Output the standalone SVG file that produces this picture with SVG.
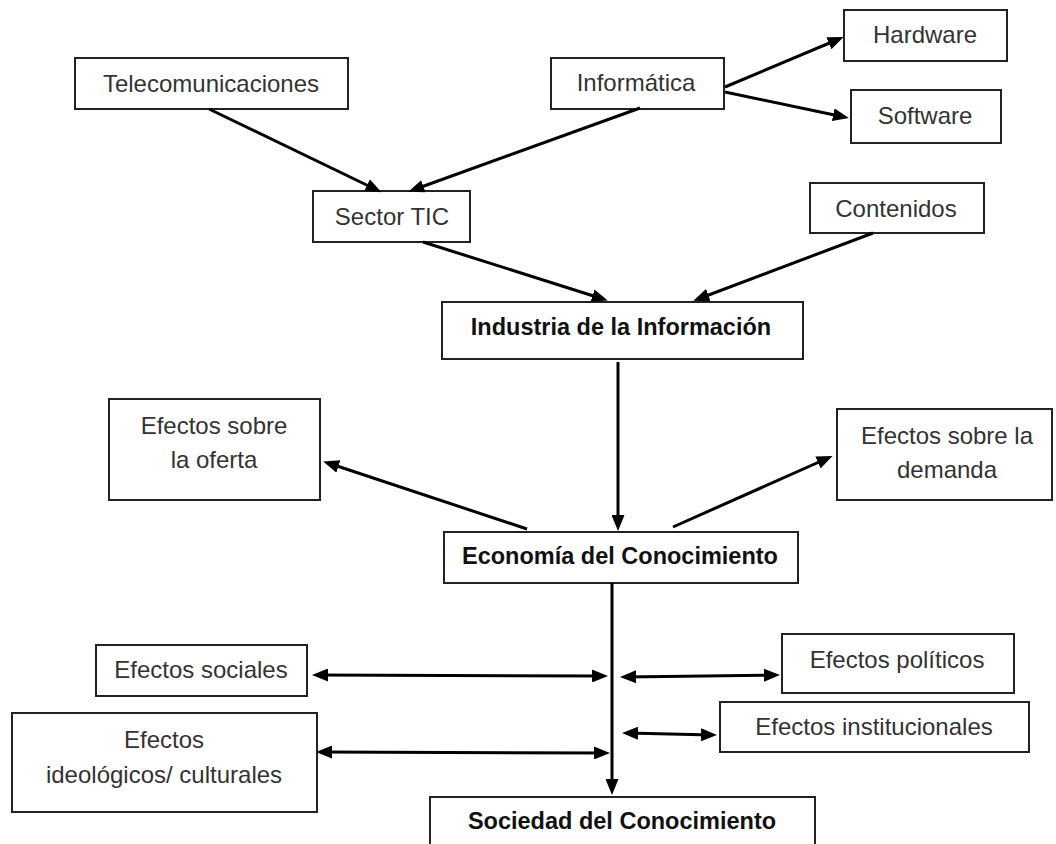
<svg xmlns="http://www.w3.org/2000/svg" width="1056" height="844" viewBox="0 0 1056 844">
<style>
.box{fill:#fff;stroke:#222;stroke-width:2}
.t{font-family:"Liberation Sans",Arial,sans-serif;font-size:24px;fill:#333;text-anchor:middle}
.b{font-family:"Liberation Sans",Arial,sans-serif;font-size:23.5px;font-weight:bold;fill:#111;text-anchor:middle}
.c line{stroke:#000;stroke-width:3;marker-end:url(#ah)}
.c line.d{marker-start:url(#ah)}
</style>
<defs>
<marker id="ah" markerUnits="userSpaceOnUse" markerWidth="16" markerHeight="13" refX="11" refY="6.5" orient="auto-start-reverse" viewBox="0 0 16 13">
<path d="M0,0 L16,6.5 L0,13 z" fill="#000"/>
</marker>
</defs>
<rect width="1056" height="844" fill="#fff"/>
<g id="telecom"><rect class="box" x="75" y="58" width="273" height="51"/><text class="t" x="211" y="92">Telecomunicaciones</text></g>
<g id="informatica"><rect class="box" x="551" y="58" width="173" height="51"/><text class="t" x="636" y="91">Informática</text></g>
<g id="hardware"><rect class="box" x="844" y="10" width="163" height="51"/><text class="t" x="925" y="43">Hardware</text></g>
<g id="software"><rect class="box" x="851" y="90" width="150" height="53"/><text class="t" x="925" y="124">Software</text></g>
<g id="sector"><rect class="box" x="313" y="191" width="157" height="51"/><text class="t" x="392" y="225">Sector TIC</text></g>
<g id="contenidos"><rect class="box" x="810" y="183" width="174" height="50"/><text class="t" x="896" y="217">Contenidos</text></g>
<g id="industria"><rect class="box" x="442" y="302" width="361" height="57"/><text class="b" x="621" y="335">Industria de la Información</text></g>
<g id="oferta"><rect class="box" x="109" y="399" width="211" height="101"/><text class="t" x="214" y="434">Efectos sobre</text><text class="t" x="214" y="468">la oferta</text></g>
<g id="demanda"><rect class="box" x="837" y="409" width="215" height="91"/><text class="t" x="947" y="444">Efectos sobre la</text><text class="t" x="947" y="478">demanda</text></g>
<g id="economia"><rect class="box" x="444" y="532" width="354" height="51"/><text class="b" x="620" y="564">Economía del Conocimiento</text></g>
<g id="sociales"><rect class="box" x="96" y="645" width="211" height="51"/><text class="t" x="201" y="678">Efectos sociales</text></g>
<g id="ideologicos"><rect class="box" x="12" y="713" width="305" height="99"/><text class="t" x="164" y="748">Efectos</text><text class="t" x="164" y="783">ideológicos/ culturales</text></g>
<g id="politicos"><rect class="box" x="782" y="634" width="232" height="59"/><text class="t" x="897" y="668">Efectos políticos</text></g>
<g id="institucionales"><rect class="box" x="720" y="702" width="309" height="50"/><text class="t" x="874" y="735">Efectos institucionales</text></g>
<g id="sociedad"><rect class="box" x="430" y="797" width="385" height="60"/><text class="b" x="622" y="829">Sociedad del Conocimiento</text></g>
<g id="connectors" class="c">
<line x1="209" y1="109" x2="377" y2="190"/>
<line x1="640" y1="108" x2="413" y2="190"/>
<line x1="725" y1="87" x2="839" y2="39"/>
<line x1="725" y1="92" x2="844" y2="117"/>
<line x1="423" y1="242" x2="603" y2="299"/>
<line x1="873" y1="233" x2="698" y2="299"/>
<line x1="618" y1="362" x2="618" y2="526"/>
<line x1="527" y1="529" x2="328" y2="463"/>
<line x1="673" y1="527" x2="828" y2="458"/>
<line x1="612" y1="583" x2="612" y2="790"/>
<line class="d" x1="317" y1="675" x2="603" y2="676"/>
<line class="d" x1="321" y1="752" x2="605" y2="753"/>
<line class="d" x1="625" y1="677" x2="775" y2="675"/>
<line class="d" x1="627" y1="733" x2="712" y2="735"/>
</g>
</svg>
